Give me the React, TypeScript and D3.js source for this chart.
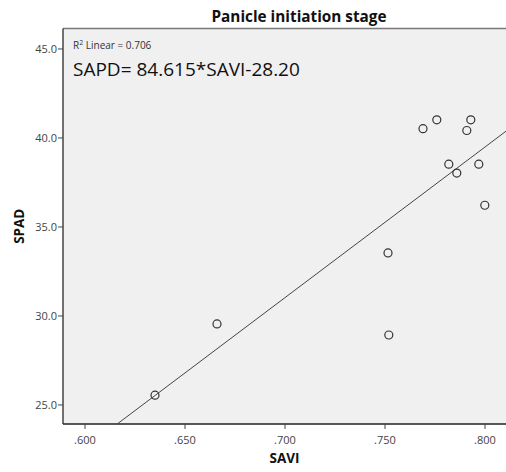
import React from "react";
import * as d3 from "d3";

const savi = [0.635, 0.666, 0.7515, 0.7519, 0.769, 0.7759, 0.7819, 0.7859, 0.7909, 0.7929, 0.7969, 0.7999];
const spad = [25.55, 29.55, 33.54, 28.93, 40.52, 41.02, 38.53, 38.03, 40.42, 41.02, 38.53, 36.22];
const xTicks = [0.6, 0.65, 0.7, 0.75, 0.8];
const yTicks = [25, 30, 35, 40, 45];
const slope = 84.615;
const intercept = -28.2;
const r2 = 0.706;

const W = 506;
const H = 472;
const left = 63;
const right = 506;
const top = 28.5;
const bottom = 424;

const font = "'Open Sans', 'DejaVu Sans', sans-serif";

export default function App() {
  const x = d3.scaleLinear().domain([0.589, 0.8105]).range([left, right]);
  const y = d3.scaleLinear().domain([23.93, 46.15]).range([bottom, top]);

  const xFmt = (v: number) => d3.format(".3f")(v).replace(/^0/, "");
  const yFmt = d3.format(".1f");

  // fit line clipped to the plot frame
  const [x0, x1] = x.domain();
  const [yMin, yMax] = y.domain();
  const xa = Math.max(x0, (yMin - intercept) / slope);
  const xb = Math.min(x1, (yMax - intercept) / slope);
  const fit = d3.line<number>()
    .x((d) => x(d))
    .y((d) => y(slope * d + intercept));

  return (
    <svg width={W} height={H} style={{ position: "absolute", left: 0, top: 0, display: "block" }}>
      <rect x={0} y={0} width={W} height={H} fill="#fff" />
      <text x={299} y={22} textAnchor="middle" fontFamily={font} fontWeight="bold" fontSize={15.3} fill="#111">
        Panicle initiation stage
      </text>
      <rect x={left} y={top} width={right - left} height={bottom - top} fill="#f0f0f0" />
      <line x1={left} x2={right} y1={top} y2={top} stroke="#777" strokeWidth={1.5} />
      <line x1={left} x2={left} y1={top} y2={bottom} stroke="#444" strokeWidth={1.5} />
      <line x1={left} x2={right} y1={bottom} y2={bottom} stroke="#222" strokeWidth={1.5} />

      {xTicks.map((t) => (
        <g key={t}>
          <line x1={x(t)} x2={x(t)} y1={bottom} y2={bottom + 5} stroke="#444" strokeWidth={1} />
          <text x={x(t)} y={bottom + 20} textAnchor="middle" fontFamily={font} fontSize={11} fill="#444">
            {xFmt(t)}
          </text>
        </g>
      ))}
      {yTicks.map((t) => (
        <g key={t}>
          <line x1={left - 5} x2={left} y1={y(t)} y2={y(t)} stroke="#444" strokeWidth={1} />
          <text x={left - 6} y={y(t) + 4} textAnchor="end" fontFamily={font} fontSize={11} fill="#444">
            {yFmt(t)}
          </text>
        </g>
      ))}

      <path d={fit([xa, xb]) ?? ""} stroke="#444" strokeWidth={1} fill="none" />

      {savi.map((v, i) => (
        <circle key={i} cx={x(v)} cy={y(spad[i])} r={4} fill="none" stroke="#333" strokeWidth={1.2} />
      ))}

      <text x={73} y={49} fontFamily={font} fontSize={10} fill="#333">
        R<tspan dy={-4} fontSize={7}>2</tspan>
        <tspan dy={4}> Linear = {r2.toFixed(3)}</tspan>
      </text>
      <text x={73} y={76} fontFamily={font} fontSize={19} fill="#111">
        {`SAPD= ${slope.toFixed(3)}*SAVI${intercept.toFixed(2)}`}
      </text>

      <text x={284.5} y={463} textAnchor="middle" fontFamily={font} fontWeight="bold" fontSize={13.5} fill="#111">
        SAVI
      </text>
      <text
        transform={`translate(24, ${(top + bottom) / 2}) rotate(-90)`}
        textAnchor="middle"
        fontFamily={font}
        fontWeight="bold"
        fontSize={13.5}
        fill="#111"
      >
        SPAD
      </text>
    </svg>
  );
}
